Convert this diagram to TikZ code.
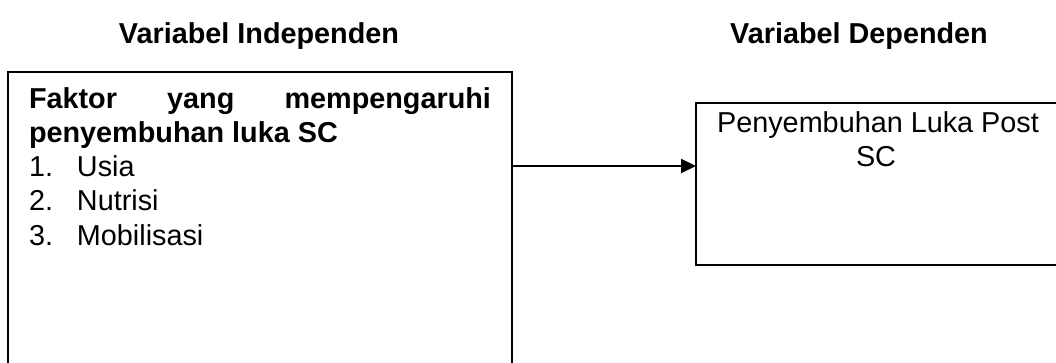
\documentclass[tikz,border=0pt]{standalone}
\usepackage{fontspec}
\setmainfont{Liberation Sans}
\usetikzlibrary{arrows.meta}
\tikzset{
  box/.style={draw=black, line width=2pt, rectangle, inner sep=0pt, outer sep=0pt},
  txt/.style={inner sep=0pt, outer sep=0pt, font=\fontsize{28.8pt}{34pt}\selectfont},
  btxt/.style={txt, font=\fontsize{28.8pt}{34pt}\selectfont\bfseries},
  conn/.style={line width=2pt, -{Triangle[length=15pt,width=14pt]}}
}
\begin{document}
\begin{tikzpicture}[x=1pt, y=-1pt]
\useasboundingbox (0,0) rectangle (1056,363);
\clip (0,0) rectangle (1056,363);
% titles
\node[btxt, anchor=base] (t1) at (259,44) {Variabel Independen};
\node[btxt, anchor=base] (t2) at (859,44) {Variabel Dependen};
% boxes
\node[box, minimum width=504pt, minimum height=348pt] (indep) at (260,246) {};
\node[box, minimum width=374pt, minimum height=162pt] (dep) at (883,184) {};
% left box text
\node[btxt, anchor=base west] (f1) at (29,109) {\hbox to 462pt{Faktor\hfill yang\hfill mempengaruhi}};
\node[btxt, anchor=base west] (f2) at (29,143) {penyembuhan luka SC};
\node[txt, anchor=base west] (i1) at (29,177) {\makebox[48pt][l]{1.}Usia};
\node[txt, anchor=base west] (i2) at (29,211) {\makebox[48pt][l]{2.}Nutrisi};
\node[txt, anchor=base west] (i3) at (29,245) {\makebox[48pt][l]{3.}Mobilisasi};
% right box text
\node[txt, anchor=base] (d1) at (878,133) {Penyembuhan Luka Post};
\node[txt, anchor=base] (d2) at (876,167) {SC};
% connector
\coordinate (ay) at (0,166);
\draw[conn] (indep.east |- ay) -- (dep.west |- ay);
\end{tikzpicture}
\end{document}
